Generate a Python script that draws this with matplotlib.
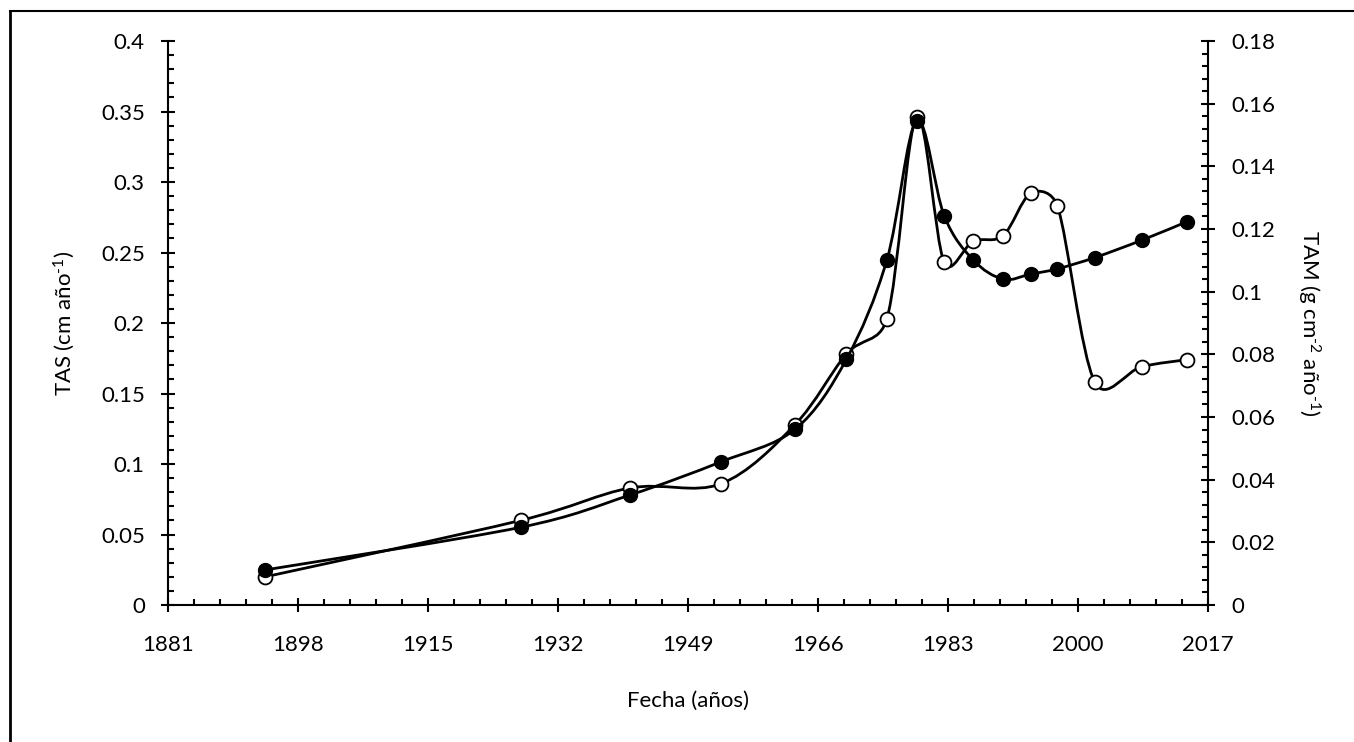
import numpy as np
import matplotlib
matplotlib.use("Agg")
from matplotlib import pyplot as plt
from matplotlib.path import Path
from matplotlib.patches import PathPatch
from matplotlib.lines import Line2D
from matplotlib.ticker import FixedLocator, MultipleLocator, FuncFormatter

plt.rcParams['font.family'] = ['Lato', 'DejaVu Sans']
plt.rcParams['mathtext.fontset'] = 'custom'
plt.rcParams['mathtext.rm'] = 'Lato'
plt.rcParams['mathtext.it'] = 'Lato'

# Sampling years (shared by both series)
years = [1893.7, 1927.1, 1941.4, 1953.3, 1963.0, 1969.7, 1975.0, 1978.9,
         1982.5, 1986.3, 1990.2, 1993.8, 1997.3, 2002.2, 2008.3, 2014.2]

# TAS, cm/año (open circles, left axis)
tas = [0.020, 0.060, 0.083, 0.086, 0.128, 0.178, 0.203, 0.346,
       0.243, 0.258, 0.262, 0.292, 0.283, 0.158, 0.169, 0.174]

# TAM, g/cm2/año (filled circles, right axis)
tam = [0.0112, 0.0248, 0.0351, 0.0457, 0.0561, 0.0784, 0.1101, 0.1546,
       0.1242, 0.1101, 0.1040, 0.1056, 0.1073, 0.1109, 0.1164, 0.1223]

x_ticks = [1881, 1898, 1915, 1932, 1949, 1966, 1983, 2000, 2017]


def smooth_path(a, x, y):
    # Smoothed line as cubic Beziers, built in screen space; control arms are
    # 1/6 of the neighbour chord but never longer than half the segment
    tr = a.transData
    pts = tr.transform(np.column_stack([x, y]))
    n = len(pts)
    verts = [pts[0]]
    codes = [Path.MOVETO]
    for i in range(n - 1):
        p0 = pts[i - 1] if i > 0 else pts[i]
        p1 = pts[i]
        p2 = pts[i + 1]
        p3 = pts[i + 2] if i + 2 < n else pts[i + 1]
        d02 = np.hypot(*(p2 - p0))
        d12 = np.hypot(*(p2 - p1))
        d13 = np.hypot(*(p3 - p1))
        f1 = 1 / 6 if d02 / 6 < d12 / 2 else d12 / 2 / d02
        f2 = 1 / 6 if d13 / 6 < d12 / 2 else d12 / 2 / d13
        c1 = p1 + (p2 - p0) * f1
        c2 = p2 - (p3 - p1) * f2
        verts += [c1, c2, p2]
        codes += [Path.CURVE4] * 3
    verts = tr.inverted().transform(np.array(verts))
    return Path(verts, codes)


fig = plt.figure(figsize=(13.54, 7.42), dpi=100)
ax = fig.add_axes([0.1241, 0.1846, 0.7681, 0.7601])
ax2 = ax.twinx()

ax.set_xlim(1881, 2017)
ax.set_ylim(0, 0.4)
ax2.set_ylim(0, 0.18)

lw = 2.0
ax.add_patch(PathPatch(smooth_path(ax, years, tas), fill=False, lw=lw,
                       color='black', zorder=2))
ax.plot(years, tas, 'o', ms=10, mfc='white', mec='black', mew=1.3, zorder=3)
ax2.add_patch(PathPatch(smooth_path(ax2, years, tam), fill=False, lw=lw,
                        color='black', zorder=2))
ax2.plot(years, tam, 'o', ms=10, mfc='black', mec='black', mew=1.0, zorder=3)

ax.xaxis.set_major_locator(FixedLocator(x_ticks))
ax.xaxis.set_minor_locator(FixedLocator(np.linspace(1881, 2017, 41)))
ax.yaxis.set_major_locator(MultipleLocator(0.05))
ax.yaxis.set_minor_locator(MultipleLocator(0.01))
ax2.yaxis.set_major_locator(MultipleLocator(0.02))
ax2.yaxis.set_minor_locator(MultipleLocator(0.004))

fmt = FuncFormatter(lambda v, p: '{:g}'.format(round(v, 4)))
ax.yaxis.set_major_formatter(fmt)
ax2.yaxis.set_major_formatter(fmt)

for a in (ax, ax2):
    a.spines['top'].set_visible(False)
    for s in a.spines.values():
        s.set_linewidth(1.5)
    a.set_facecolor('none')
ax2.spines['left'].set_visible(False)
ax2.spines['bottom'].set_visible(False)
ax.spines['right'].set_visible(False)

ax.tick_params(which='major', direction='inout', length=9.5, width=1.5,
               labelsize=16, pad=12)
ax.tick_params(which='minor', direction='in', length=4, width=1.5)
ax.tick_params(axis='x', which='major', pad=17)
ax2.tick_params(which='major', direction='inout', length=9.5, width=1.5,
                labelsize=16, pad=12)
ax2.tick_params(which='minor', direction='in', length=4, width=1.5)

ax.set_xlabel('Fecha (años)', fontsize=16, labelpad=26)
ax.set_ylabel(r'TAS (cm año$^{\text{-}1}$)', fontsize=16, labelpad=17)
ax2.set_ylabel(r'TAM (g cm$^{\text{-}2}$ año$^{\text{-}1}$)', fontsize=16,
               rotation=270, labelpad=34)

# Outer frame lines
fig.add_artist(Line2D([10 / 1354, 1], [1 - 11 / 742, 1 - 11 / 742],
                      color='black', lw=1.5, transform=fig.transFigure))
fig.add_artist(Line2D([10 / 1354, 10 / 1354], [0, 1 - 11 / 742],
                      color='black', lw=2.0, transform=fig.transFigure))

fig.savefig('out.png', dpi=100)
